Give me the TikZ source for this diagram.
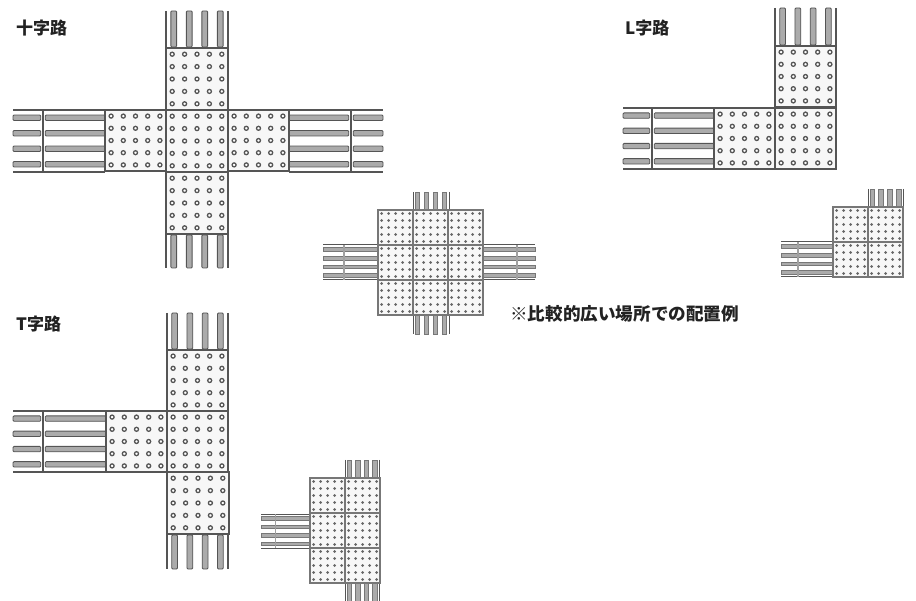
\documentclass[tikz,border=0pt]{standalone}
\usepackage{fontspec}
\newfontfamily\cjk{Noto Sans CJK JP}
\definecolor{ln}{HTML}{555555}
\definecolor{barfill}{HTML}{ABABAB}
\definecolor{padfill}{HTML}{F7F7F7}
\definecolor{ink}{HTML}{222222}
\tikzset{
  x=1pt,y=-1pt,
  blockline/.style={draw=ln,line width=1.05pt,fill=padfill},
  railline/.style={draw=ln,line width=1.05pt},
  bigbar/.style={draw=ln,line width=0.85pt,fill=barfill,rounded corners=1pt},
  smallbar/.style={draw=ln!80,line width=0.8pt,fill=barfill},
  ring/.style={draw=ln,line width=1.3pt,fill=white},
  stud/.style={fill=ln!90,draw=none},
  smallline/.style={draw=ln,line width=1pt},
  lab/.style={font=\cjk\bfseries\fontsize{17}{19}\selectfont,text=ink,inner sep=0pt,anchor=west},
  notelab/.style={font=\cjk\bfseries\fontsize{17.6}{19}\selectfont,text=ink,inner sep=0pt,anchor=west},
}
\newcommand{\bigpad}[3]{%
  \path[blockline] (#1,#2) rectangle ++(#3,#3);
  \foreach \i in {0,1,2,3,4}{\foreach \j in {0,1,2,3,4}{
    \path[ring] ({#1+(\i+.5)*#3/5},{#2+(\j+.5)*#3/5}) circle[radius=2];}}}
\newcommand{\smallpad}[3]{%
  \path[blockline,draw=ln!80] (#1,#2) rectangle ++(#3,#3);
  \foreach \i in {0,1,2,3,4}{\foreach \j in {0,1,2,3,4}{
    \path[stud] ({#1+(\i+.5)*#3/5},{#2+(\j+.5)*#3/5}) circle[radius=1.5];}}}
\newcommand{\bigH}[5]{%
  \draw[railline] (#1,#4) -- (#2,#4) (#1,#4+#5) -- (#2,#4+#5) (#3,#4) -- (#3,#4+#5);
  \foreach \k in {0,1,2,3}{
    \path[bigbar] (#1,{#4+(\k+.5)*#5/4-2.7}) rectangle (#3-2.2,{#4+(\k+.5)*#5/4+2.7});
    \path[bigbar] (#3+2.2,{#4+(\k+.5)*#5/4-2.7}) rectangle (#2,{#4+(\k+.5)*#5/4+2.7});}}
\newcommand{\bigV}[4]{%
  \draw[railline] (#3,#1) -- (#3,#2) (#3+#4,#1) -- (#3+#4,#2);
  \foreach \k in {0,1,2,3}{
    \path[bigbar] ({#3+(\k+.5)*#4/4-2.9},#1) rectangle ({#3+(\k+.5)*#4/4+2.9},#2);}}
\newcommand{\smallH}[5]{%
  \foreach \k in {0,1,2,3}{
    \path[smallbar] (#1,{#4+(\k+.5)*#5/4-1.8}) rectangle (#2,{#4+(\k+.5)*#5/4+1.8});}
  \draw[smallline] (#1,#4) -- (#2,#4) (#1,#4+#5) -- (#2,#4+#5);
  \draw[draw=ln!55,line width=1.2pt] (#3,#4) -- (#3,#4+#5);}
\newcommand{\smallV}[4]{%
  \foreach \k in {0,1,2,3}{
    \path[smallbar] ({#3+(\k+.5)*#4/4-2.3},#1) rectangle ({#3+(\k+.5)*#4/4+2.3},#2);}
  \draw[smallline] (#3,#1) -- (#3,#2) (#3+#4,#1) -- (#3+#4,#2);}
\begin{document}
\begin{tikzpicture}
\useasboundingbox (0,0) rectangle (916,601);
% ---- cross
\bigH{13}{105}{43}{110}{62}
\bigH{289}{383}{351}{110}{62}
\bigV{11}{47}{166}{62}
\bigV{235}{268}{166}{62}
\bigpad{166}{48}{62}\bigpad{105}{110}{61}\bigpad{166}{110}{62}\bigpad{228}{110}{61}\bigpad{166}{172}{62}
% ---- L
\bigH{623}{714}{652}{108}{61}
\bigV{8}{45}{775}{61}
\bigpad{775}{46}{61}\bigpad{714}{108}{61}\bigpad{775}{108}{61}
% ---- T
\bigH{13}{106}{43}{411}{61}
\bigV{313}{349}{167}{61}
\bigV{535}{569}{167}{61}
\bigpad{167}{350}{61}\bigpad{106}{411}{61}\bigpad{167}{411}{61}\bigpad{167}{472}{62}
% ---- small cross
\smallV{192}{210}{413}{36}
\smallV{315}{334}{413}{36}
\smallH{323}{378}{344}{245}{35}
\smallH{483}{535}{517}{245}{35}
\foreach \a in {378,413,448}{\foreach \b in {210,245,280}{\smallpad{\a}{\b}{35}}}
% ---- small L
\smallV{189}{207}{868}{35}
\smallH{781}{833}{798}{242}{35}
\foreach \a/\b in {833/207,868/207,833/242,868/242}{\smallpad{\a}{\b}{35}}
% ---- small T
\smallV{460}{478}{345}{34}
\smallV{583}{601}{345}{34}
\smallH{261}{310}{275.5}{514}{34}
\foreach \a in {310,345}{\foreach \b in {478,513,548}{\smallpad{\a}{\b}{35}}}
% ---- labels
\node[lab] (crosslabel) at (16,28) {十字路};
\node[lab] (llabel) at (625,28) {L字路};
\node[lab] (tlabel) at (16,324) {T字路};
\node[notelab] (note) at (510,314) {※比較的広い場所での配置例};
\end{tikzpicture}
\end{document}
